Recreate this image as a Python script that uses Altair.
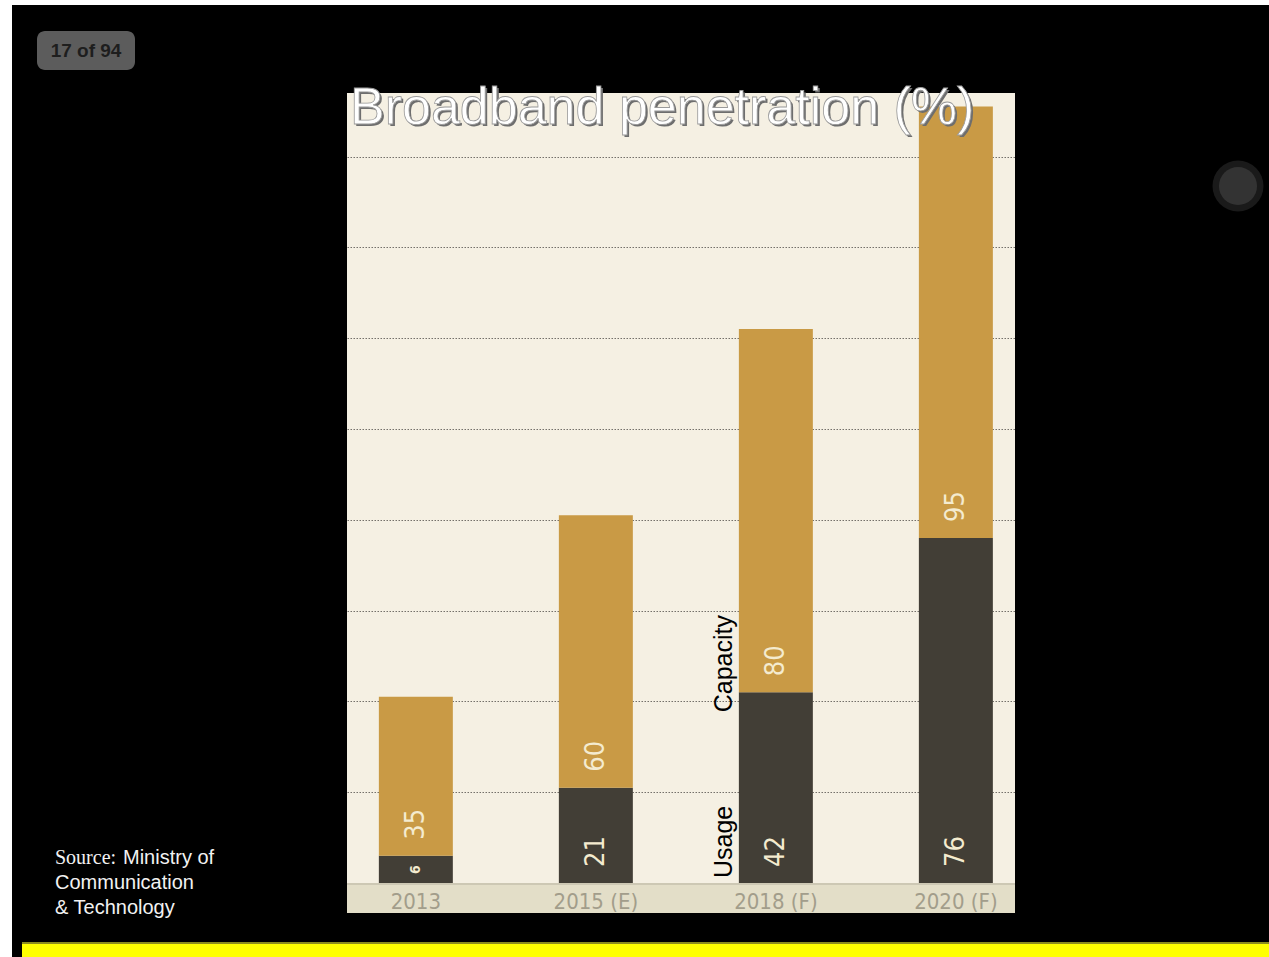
import altair as alt
import pandas as pd

# ---------------- data ----------------
years = ["2013", "2015 (E)", "2018 (F)", "2020 (F)"]
usage = [6, 21, 42, 76]
capacity = [35, 60, 80, 95]
series_names = ["Usage", "Capacity"]
grid_values = [20, 40, 60, 80, 100, 120, 140, 160]
title_text = "Broadband penetration (%)"
badge_text = "17 of 94"

rows = []
for i, yr in enumerate(years):
    rows.append({"year": yr, "series": "Usage", "order": 0, "value": usage[i]})
    rows.append({"year": yr, "series": "Capacity", "order": 1, "value": capacity[i]})
df = pd.DataFrame(rows)

# ---------------- layout ----------------
W, H = 668, 790
PAD = {"left": 347, "top": 93, "right": 254, "bottom": 74}
NARROW = "Liberation Sans Narrow, DejaVu Sans Condensed, Arial Narrow, sans-serif"
SANS = "Liberation Sans, Arial, Helvetica, sans-serif"
SERIF = "Liberation Serif, Times New Roman, serif"

one = alt.Data(values=[{}])


def deco_rect(x, x2, y, y2, color, **kw):
    return alt.Chart(one).mark_rect(color=color, **kw).encode(
        x=alt.value(x), x2=alt.value(x2), y=alt.value(y), y2=alt.value(y2)
    )


def deco_text(txt, x, y, **kw):
    return alt.Chart(one).mark_text(**kw).encode(
        x=alt.value(x), y=alt.value(y), text=alt.value(txt)
    )


base = alt.Chart(df).transform_stack(
    stack="value",
    groupby=["year"],
    sort=[alt.SortField("order", order="ascending")],
    as_=["y0", "y1"],
)

x_scale = alt.Scale(paddingInner=0.589, paddingOuter=0.15, align=0.59)
y_scale = alt.Scale(domain=[0, 174], nice=False, zero=True)

x_enc = alt.X(
    "year:N",
    sort=years,
    scale=x_scale,
    axis=alt.Axis(
        title=None, domain=False, ticks=False, tickSize=0, labelAngle=0,
        labelFont=NARROW, labelFontSize=22, labelColor="#a29d8b",
        labelPadding=8, grid=False, zindex=2,
    ),
)
y_enc = alt.Y(
    "y0:Q",
    scale=y_scale,
    axis=alt.Axis(
        title=None, values=grid_values, grid=True, gridColor="#74706a",
        gridDash=[1.5, 1.5], gridWidth=1.2, labels=False, ticks=False,
        domain=False, zindex=0,
    ),
)

bars = base.mark_bar(strokeWidth=0).encode(
    x=x_enc,
    y=y_enc,
    y2="y1:Q",
    color=alt.Color(
        "series:N",
        scale=alt.Scale(domain=series_names, range=["#423e36", "#c99a45"]),
        legend=None,
    ),
)

xs = alt.X("year:N", sort=years)

big_labels = base.transform_filter("datum.value >= 10").mark_text(
    angle=270, align="left", baseline="middle", dx=16,
    font=NARROW, fontSize=27, color="#f4ebcf",
).encode(x=xs, y=alt.Y("y0:Q"), text="value:Q")

small_labels = base.transform_filter("datum.value < 10").mark_text(
    angle=270, align="left", baseline="middle", dx=9,
    font=NARROW, fontSize=14, fontWeight="bold", color="#f4ebcf",
).encode(x=xs, y=alt.Y("y0:Q"), text="value:Q")

usage_note = base.transform_filter(
    "datum.year == '2018 (F)' && datum.series == 'Usage'"
).mark_text(
    angle=270, align="left", baseline="middle", dx=5, dy=-52,
    font=SANS, fontSize=25, color="#000000",
).encode(x=xs, y=alt.Y("y0:Q"), text="series:N")

cap_note = base.transform_filter(
    "datum.year == '2018 (F)' && datum.series == 'Capacity'"
).mark_text(
    angle=270, align="left", baseline="middle", dx=-20, dy=-52,
    font=SANS, fontSize=25, color="#000000",
).encode(x=xs, y=alt.Y("y0:Q"), text="series:N")

# decorations (pixel positions relative to plot origin at 347,93)
white_left = deco_rect(-347, -335, -93, 864, "#ffffff")
white_top = deco_rect(-347, 922, -93, -88, "#ffffff")
yellow = deco_rect(-325, 922, 850, 864, "#ffff00")
yellow_edge = deco_rect(-325, 922, 849, 851, "#8c8c1e")
band = deco_rect(0, W, 790, 820, "#e3dec8")
band_line = deco_rect(0, W, 790, 792, "#cdc8b4")
badge = deco_rect(-310, -212, -62, -23, "#5c5c5c", cornerRadius=8)
badge_txt = deco_text(badge_text, -261, -42, align="center", baseline="middle",
                      font=SANS, fontSize=19, fontWeight="bold", color="#1e1e1e")
glow = alt.Chart(one).mark_circle(color="#1a1a1a", opacity=1).encode(
    x=alt.value(891), y=alt.value(93), size=alt.value(2600))
knob = alt.Chart(one).mark_circle(color="#333333", opacity=1).encode(
    x=alt.value(891), y=alt.value(93), size=alt.value(1450))

title_shadow = deco_text(title_text, 5, 33, align="left", baseline="alphabetic",
                         font=SANS, fontSize=52, color="#6e6e6e")
title_main = deco_text(title_text, 3, 31, align="left", baseline="alphabetic",
                       font=SANS, fontSize=52, color="#ffffff",
                       stroke="#9a9a9a", strokeWidth=0.8)

src1 = deco_text("Source:", -292, 771, align="left", baseline="alphabetic",
                 font=SERIF, fontSize=20, color="#f2f2f2")
src2 = deco_text("Ministry of", -224, 771, align="left", baseline="alphabetic",
                 font=SANS, fontSize=20, color="#f2f2f2")
src3 = deco_text("Communication", -292, 796, align="left", baseline="alphabetic",
                 font=SANS, fontSize=20, color="#f2f2f2")
src4 = deco_text("& Technology", -292, 821, align="left", baseline="alphabetic",
                 font=SANS, fontSize=20, color="#f2f2f2")

chart = alt.layer(
    white_left, white_top, yellow, yellow_edge, band, band_line, badge, badge_txt,
    glow, knob,
    bars, big_labels, small_labels, usage_note, cap_note,
    title_shadow, title_main, src1, src2, src3, src4,
).properties(
    width=W, height=H, padding=PAD,
    autosize=alt.AutoSizeParams(type="none"),
).configure(
    background="#000000",
).configure_view(
    fill="#f5f0e3", stroke=None,
)

chart.save("out.html", embed_options={"renderer": "svg", "actions": False})
